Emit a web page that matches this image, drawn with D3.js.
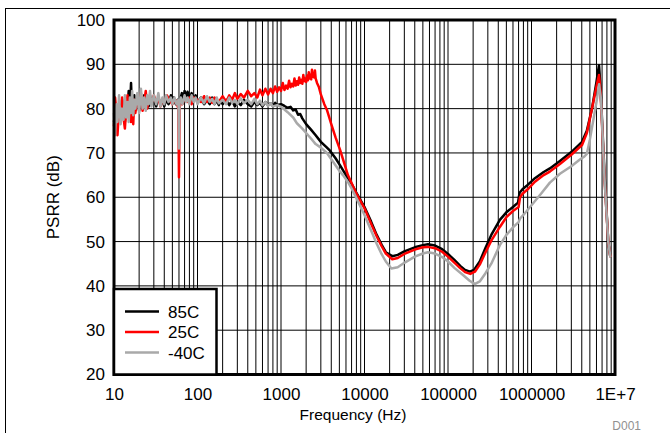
<!DOCTYPE html>
<html><head><meta charset="utf-8">
<script src="https://cdn.jsdelivr.net/npm/d3@7"></script>
<style>html,body{margin:0;padding:0;background:#fff;}svg{display:block;}</style>
</head><body>
<svg id="c" width="670" height="433"></svg>
<script>
// ---- data ----
const seriesNames = ["85C", "25C", "-40C"];
const seriesColors = ["#000000", "#ff0000", "#a9a9a9"];
const xTickValues = [10, 100, 1000, 10000, 100000, 1000000, 10000000];
const xTickLabels = ["10", "100", "1000", "10000", "100000", "1000000", "1E+7"];
const yTickValues = [20, 30, 40, 50, 60, 70, 80, 90, 100];

const freq85 = [10,10.5,11,11.5,12,12.5,13,13.5,14,14.5,15,15.5,16,16.5,17,17.5,18,19,20,21,22,23,24,25,26,27,28,30,32,34,36,38,40,42,45,48,50,52,55,58,60,62,65,68,70,73,76,80,85,90,95,100,110,120,130,140,150,160,170,180,190,200,220,240,260,280,300,330,360,400,440,480,520,560,600,650,700,750,800,850,900,1000,1100,1200,1300,1400,1500,1600,1700,1800,2000,2300,2600,3000,3500,3860,4500,5100,6000,7000,8000,10000,12000,14000,16000,18000,21500,25000,30000,40000,50000,57500,70000,85000,100000,120000,140000,160000,183000,205000,240000,280000,330000,418000,500000,600000,690000,720000,780000,900000,1100000,1400000,1660000,2190000,3000000,4030000,4600000,5300000,6000000,6430000,6700000,7500000,8300000,8800000];
const psrr85 = [77,80,76,81,78,82,79,77,82,80,84,79,85.8,78,81,83,80,82,79.5,82.5,80,83,81,82.5,80.5,83,81,82,80.5,82.5,81,82,80.5,82,81,83,81.5,82.5,81,82,80.5,82,83.5,82,84,82.5,83.8,82,83.5,82,83,81.5,82.5,81,82,81,82.5,81,81.8,80.8,82,81,82,80.8,81.8,80.5,81.5,80.8,82,81,80.5,81.5,80.8,81.3,80.5,81.5,80.8,81.2,80.6,81.3,80.8,81,80.6,80.2,80.4,79.6,79.8,78.6,78.8,77.8,76.5,75.2,74,72.5,71.3,70.5,68.8,67.2,65,63,61,57.8,54.5,51.5,49.3,47.6,46.7,47,47.8,48.7,49.2,49.4,49.1,48.3,47.2,45.8,44.5,43.6,43.2,43.6,45.5,48.5,51.5,54.9,56.6,57.8,58.8,61,61.8,62.8,64.3,65.7,66.5,68.2,70.2,72.5,75,80,86,89.8,85,65,50,46.5];

const freq25 = [10,10.3,10.7,11,11.5,12,12.5,13,13.5,14,14.5,15,15.5,16,16.5,17,17.5,18,19,20,21,22,23,24,25,26,28,30,32,34,36,38,40,43,46,50,54,57,59,60,61,63,66,70,75,80,85,90,100,110,120,130,140,150,160,180,200,220,240,260,280,300,330,360,400,440,480,520,560,600,650,700,750,800,850,900,950,1000,1050,1100,1150,1200,1250,1300,1350,1400,1450,1500,1550,1600,1650,1700,1750,1800,1850,1900,1950,2000,2050,2100,2150,2200,2250,2300,2350,2400,2450,2500,2550,2600,2700,2850,3000,3300,3550,4000,4500,5100,6330,7000,8000,10000,12000,14000,16000,18000,21500,25000,30000,40000,50000,57500,70000,85000,100000,120000,140000,160000,185000,210000,240000,280000,330000,418000,500000,600000,700000,730000,780000,900000,1100000,1400000,1660000,2190000,3000000,4030000,4600000,5300000,6000000,6430000,6700000,7500000,8300000,8800000];
const psrr25 = [76,82.5,79,74,80,77.5,82.5,78,75.5,80,83,78,81.5,77,79,76.5,82,79,82,80.5,83.5,79.5,81.5,84,80,82.5,81,83,81.5,82.5,80.5,82,81.5,83,82,81,82,81,80,64.5,80,82,81,82.5,81.5,82.5,81,82.5,82,81.5,82.8,81.5,82.5,81.3,82.5,81.5,82.8,81.5,83,82,83.5,82.2,83.3,82.5,84,82.8,83.5,82.5,84.3,83,84.5,83.2,84.5,83.5,85,83.8,84.8,84,85.8,84.2,85.2,84.5,86.3,84.8,85.6,85,86.8,85.2,86.2,85.4,87,85.8,86.5,85.6,87.6,86.2,86.8,86,87.4,86.4,88.2,86.8,87.6,86.6,88.8,87.2,88,87,88.6,86.8,85.8,84.8,83.2,81,79.7,76.5,73.5,70.7,65,63.2,60.8,57.5,54,51.2,49,47.3,46,46.3,47.2,48.2,48.7,48.8,48.5,47.7,46.6,45.2,44,43.1,42.7,43.2,44.8,47.5,50.2,53.3,55.5,56.9,57.8,60,60.8,61.8,63.5,65,65.8,67.5,69.6,71.8,74.5,80,85,87.6,84,64,50,46.5];

const freqM40 = [10,10.3,10.7,11,11.5,12,12.5,13,13.5,14,14.5,15,15.5,16,16.5,17,17.5,18,19,20,21,22,23,24,25,26,27,28,30,32,34,36,38,40,42,45,48,50,53,56,59,60,61,63,66,70,73,76,80,85,90,95,100,110,120,130,140,150,160,170,180,200,220,240,260,280,300,330,360,400,440,480,520,560,600,650,700,750,800,900,1000,1100,1200,1400,1550,1800,2000,2300,2600,3000,3550,4200,5000,5520,6300,7000,8000,10000,12000,14000,16000,18000,21000,25000,30000,40000,50000,57500,70000,85000,100000,120000,150000,180000,209000,240000,280000,330000,418000,500000,600000,700000,730000,800000,1000000,1300000,1660000,2190000,3000000,3800000,4300000,4600000,5000000,5500000,6000000,6450000,6800000,7500000,8300000,8800000];
const psrrM40 = [79,74,81,77,83,76.5,80,77.5,83,78,81.5,77,82.5,79,84,78.5,82,80,83.5,79,84.5,80,82.5,79.5,83,81,84,80.5,83,81,83.5,80.5,82.5,81,83,81.5,82.5,81,82.5,81,82,71,81.5,82.5,81,83,81.5,82.5,81,83,81.5,82.5,81,82.5,81.2,82.8,81.5,82.2,81,82.5,81.2,82,81,82.5,81.3,82,81,82.3,81.2,82,81,82.2,81,81.8,80.8,81.5,80.6,81.2,80.5,80.8,80.4,79.8,79.2,78,76.7,75.5,74.5,73.2,72,71.2,70,68,66,65,63.5,62,59.8,56,52.5,49.5,47.2,45.5,43.9,44.2,45.2,46.6,47.3,47.6,47.3,46.5,45.5,44,42.5,41.2,40.4,41,42.8,45,49.2,51.5,53.2,54.4,55.2,56,58.2,60.8,63.3,65.3,67,68.5,69.2,69.8,73,77.4,81.5,85.5,82,64,50,46.5];

// ---- chart ----
const svg = d3.select("#c");
const FONT = "Arial, 'Liberation Sans', Helvetica, sans-serif";
const X0 = 114, X1 = 615, Y0 = 20, Y1 = 374.5;
const x = d3.scaleLog().domain([10, 1e7]).range([X0, X1]);
const y = d3.scaleLinear().domain([20, 100]).range([Y1, Y0]);

// outer frame (top and left)
svg.append("line").attr("x1", 5).attr("x2", 670).attr("y1", 8.5).attr("y2", 8.5).attr("stroke", "#000").attr("stroke-width", 1);
svg.append("line").attr("x1", 5.5).attr("x2", 5.5).attr("y1", 8).attr("y2", 433).attr("stroke", "#000").attr("stroke-width", 1);

// grid
const minorTicks = [];
for (let e = 1; e < 7; e++) for (let m = 1; m < 10; m++) minorTicks.push(m * Math.pow(10, e));
const grid = svg.append("g");
grid.selectAll("line.v").data(minorTicks).join("line")
  .attr("x1", d => x(d)).attr("x2", d => x(d)).attr("y1", Y0).attr("y2", Y1)
  .attr("stroke", "#000").attr("stroke-width", 1);
grid.selectAll("line.h").data(yTickValues.slice(1, -1)).join("line")
  .attr("x1", X0).attr("x2", X1).attr("y1", d => y(d)).attr("y2", d => y(d))
  .attr("stroke", "#000").attr("stroke-width", 1);

// curves
const series = [
  { f: freq85, v: psrr85 },
  { f: freq25, v: psrr25 },
  { f: freqM40, v: psrrM40 }
];
const line = d3.line().x(d => x(d[0])).y(d => y(d[1]));
const plot = svg.append("g");
series.forEach((s, i) => {
  const pts = s.f.map((f, k) => [f, s.v[k]]);
  plot.append("path").datum(pts).attr("d", line)
    .attr("fill", "none").attr("stroke", seriesColors[i])
    .attr("stroke-width", 2.5).attr("stroke-linejoin", "round");
});

// plot border
svg.append("rect").attr("x", X0).attr("y", Y0).attr("width", X1 - X0).attr("height", Y1 - Y0)
  .attr("fill", "none").attr("stroke", "#000").attr("stroke-width", 3);

// legend
const lg = svg.append("g");
lg.append("rect").attr("x", X0).attr("y", 289).attr("width", 102.5).attr("height", Y1 - 289)
  .attr("fill", "#fff").attr("stroke", "#000").attr("stroke-width", 2.5);
seriesNames.forEach((n, i) => {
  const yy = 311.5 + i * 20.5;
  lg.append("line").attr("x1", 125).attr("x2", 159).attr("y1", yy).attr("y2", yy)
    .attr("stroke", seriesColors[i]).attr("stroke-width", 2.5);
  lg.append("text").attr("x", 168).attr("y", yy).attr("dy", "0.36em")
    .attr("font-family", FONT).attr("font-size", 17).attr("fill", "#000").text(n);
});

// axes
const yAxis = d3.axisLeft(y).tickValues(yTickValues).tickSize(0).tickPadding(9).tickFormat(d3.format("d"));
const gy = svg.append("g").attr("transform", `translate(${X0},0)`).call(yAxis);
gy.select(".domain").remove();
gy.selectAll("text").attr("font-family", FONT).attr("font-size", 17).attr("fill", "#000");

const xAxis = d3.axisBottom(x).tickValues(xTickValues).tickSize(0).tickPadding(13)
  .tickFormat((d, i) => xTickLabels[i]);
const gx = svg.append("g").attr("transform", `translate(0,${Y1})`).call(xAxis);
gx.select(".domain").remove();
gx.selectAll("text").attr("font-family", FONT).attr("font-size", 17).attr("fill", "#000");

// titles
svg.append("text").attr("x", 353).attr("y", 420).attr("text-anchor", "middle")
  .attr("font-family", FONT).attr("font-size", 15.5).attr("fill", "#000").text("Frequency (Hz)");
svg.append("text").attr("transform", `translate(59,${(Y0 + Y1) / 2}) rotate(-90)`).attr("text-anchor", "middle")
  .attr("font-family", FONT).attr("font-size", 17).attr("fill", "#000").text("PSRR (dB)");
svg.append("text").attr("x", 641).attr("y", 430).attr("text-anchor", "end")
  .attr("font-family", FONT).attr("font-size", 12).attr("fill", "#909090").text("D001");
</script>
</body></html>
